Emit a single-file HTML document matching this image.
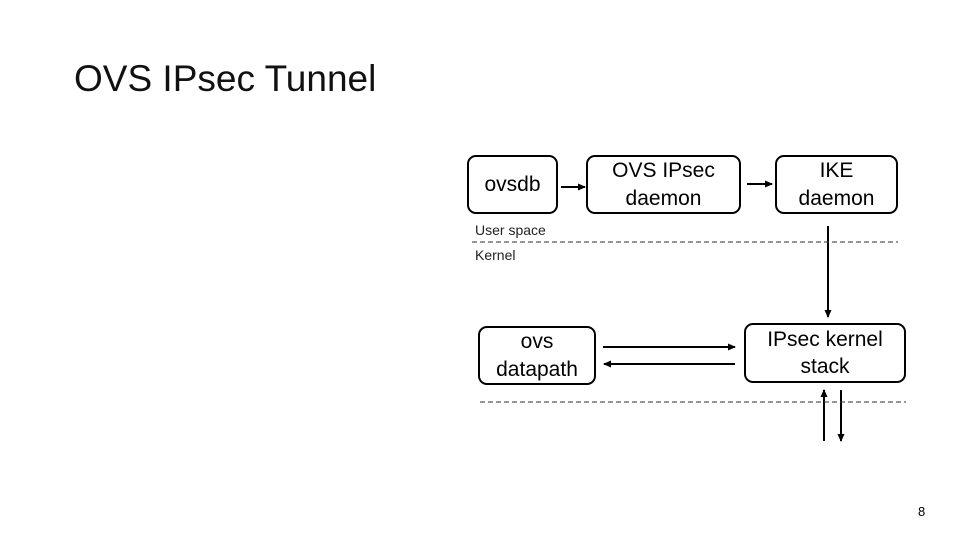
<!DOCTYPE html>
<html><head><style>
body{margin:0;width:960px;height:540px;background:#fff;overflow:hidden;position:relative;font-family:"Liberation Sans",sans-serif}
.t{position:absolute;left:74px;top:58px;font-size:37px;color:#111}
.b{position:absolute;border:2.5px solid #000;border-radius:9px;box-sizing:border-box;display:flex;align-items:center;justify-content:center;text-align:center;font-size:21px;line-height:28px;color:#000}
.s{position:absolute;font-size:14px;color:#222}
</style></head><body>
<div class="t">OVS IPsec Tunnel</div>
<div class="b" style="left:467px;top:155px;width:91px;height:59px">ovsdb</div>
<div class="b" style="left:586px;top:155px;width:155px;height:59px">OVS IPsec<br>daemon</div>
<div class="b" style="left:775px;top:155px;width:123px;height:59px">IKE<br>daemon</div>
<div class="b" style="left:478px;top:326px;width:118px;height:59px">ovs<br>datapath</div>
<div class="b" style="left:744px;top:323px;width:162px;height:60px;line-height:27px">IPsec kernel<br>stack</div>
<div class="s" style="left:475px;top:222px">User space</div>
<div class="s" style="left:475px;top:247px">Kernel</div>
<div style="position:absolute;left:918px;top:504px;font-size:13px;font-family:'Liberation Sans',sans-serif">8</div>
<svg width="960" height="540" style="position:absolute;left:0;top:0">
<defs><marker id="a" markerWidth="8" markerHeight="8" refX="7" refY="4" orient="auto" markerUnits="userSpaceOnUse"><path d="M0,0.5 L8,4 L0,7.5z" fill="#000"/></marker></defs>
<g stroke="#000" stroke-width="2" fill="none">
<line x1="561" y1="187" x2="585" y2="187" marker-end="url(#a)"/>
<line x1="747" y1="184" x2="772" y2="184" marker-end="url(#a)"/>
<line x1="828" y1="226" x2="828" y2="317" marker-end="url(#a)"/>
<line x1="603" y1="347" x2="735" y2="347" marker-end="url(#a)"/>
<line x1="735" y1="364" x2="604" y2="364" marker-end="url(#a)"/>
<line x1="824" y1="441" x2="824" y2="390" marker-end="url(#a)"/>
<line x1="841" y1="390" x2="841" y2="441" marker-end="url(#a)"/>
</g>
<g stroke="#333" stroke-width="1" stroke-dasharray="5,3">
<line x1="472" y1="242" x2="898" y2="242"/>
<line x1="480" y1="402" x2="906" y2="402"/>
</g>
</svg>
</body></html>
